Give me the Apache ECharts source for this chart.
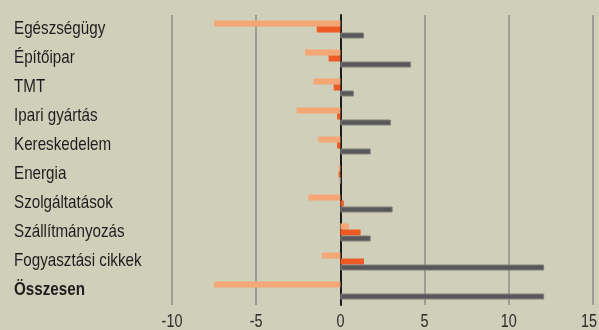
<!DOCTYPE html>
<html>
<head>
<meta charset="utf-8">
<script src="https://cdn.jsdelivr.net/npm/echarts@6/dist/echarts.min.js"></script>
<style>
  html, body { margin: 0; padding: 0; background: #d0cfb9; }
  #chart { width: 599px; height: 330px; }
</style>
</head>
<body>
<div id="chart"></div>
<script>
// Sector categories, top to bottom
const categories = [
  'Egészségügy', 'Építőipar', 'TMT', 'Ipari gyártás', 'Kereskedelem',
  'Energia', 'Szolgáltatások', 'Szállítmányozás', 'Fogyasztási cikkek', 'Összesen'
];

// Three series per sector
const seriesA = [-7.5, -2.1, -1.6, -2.6, -1.3, -0.1, -1.9, 0.5, -1.1, -7.5];
const seriesB = [-1.4, -0.7, -0.4, -0.2, -0.2, -0.1, 0.2, 1.2, 1.4, 0];
const seriesC = [1.4, 4.2, 0.8, 3.0, 1.8, 0, 3.1, 1.8, 12.1, 12.1];

// Value axis ticks
const xMin = -10, xMax = 15, xStep = 5;
const tickLabels = ['-10', '-5', '0', '5', '10', '15'];

const FONT = 'Liberation Sans, Arial, sans-serif';
const TEXT_COLOR = '#1e1e1e';
const NARROW = 0.8; // horizontal squeeze for the condensed look

const chart = echarts.init(document.getElementById('chart'), null, { renderer: 'canvas' });

const barBase = { type: 'bar', barWidth: 6, barGap: '0%', barCategoryGap: '38%' };

chart.setOption({
  backgroundColor: '#d0cfb9',
  animation: false,
  grid: { left: 172, right: 6, top: 15, bottom: 25, containLabel: false },
  xAxis: {
    type: 'value',
    min: xMin, max: xMax, interval: xStep,
    axisLine: { show: false },
    axisTick: { show: false },
    splitLine: { show: true, lineStyle: { color: '#8d8c84', width: 1.5 } },
    axisLabel: { show: false }
  },
  yAxis: {
    type: 'category',
    data: categories,
    inverse: true,
    axisLine: { show: true, onZero: true, lineStyle: { color: '#1c1c1c', width: 2 } },
    axisTick: { show: false },
    splitLine: { show: false },
    axisLabel: { show: false }
  },
  series: [
    Object.assign({}, barBase, {
      name: 'A', data: seriesA,
      itemStyle: { color: '#f4a775' }
    }),
    Object.assign({}, barBase, {
      name: 'B', data: seriesB,
      itemStyle: { color: '#ee5a24' }
    }),
    Object.assign({}, barBase, {
      name: 'C', data: seriesC,
      itemStyle: { color: '#58585a', borderColor: '#80807c', borderWidth: 1 }
    })
  ]
});

// Condensed axis labels, placed through the chart's own scales
const gridRect = chart.getModel().getComponent('grid').coordinateSystem.getRect();
const chartWidth = chart.getWidth();
const labels = [];

categories.forEach(function (name) {
  const y = chart.convertToPixel({ yAxisIndex: 0 }, name);
  labels.push({
    type: 'text',
    x: 14, y: y - 1,
    scaleX: NARROW,
    silent: true,
    style: {
      text: name,
      fontSize: 19,
      fontFamily: FONT,
      fontWeight: name === 'Összesen' ? 'bold' : 'normal',
      fill: TEXT_COLOR,
      align: 'left',
      verticalAlign: 'middle'
    }
  });
});

tickLabels.forEach(function (t, i) {
  const x = chart.convertToPixel({ xAxisIndex: 0 }, Number(t));
  const last = i === tickLabels.length - 1;
  labels.push({
    type: 'text',
    // the last label is kept inside the canvas edge
    x: last ? chartWidth - 2 : x,
    y: gridRect.y + gridRect.height + 17,
    scaleX: NARROW,
    silent: true,
    style: {
      text: t,
      fontSize: 18,
      fontFamily: FONT,
      fill: '#2b2b2b',
      align: last ? 'right' : 'center',
      verticalAlign: 'middle'
    }
  });
});

chart.setOption({ graphic: { elements: labels } });
</script>
</body>
</html>
